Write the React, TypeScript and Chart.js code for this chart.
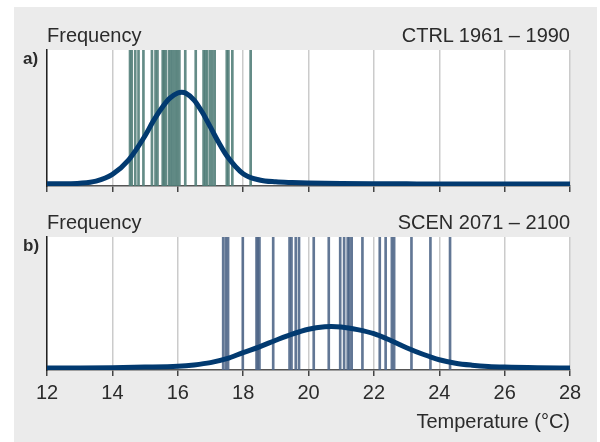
import React, { useEffect, useRef } from "react";
import { Chart, registerables } from "chart.js";

Chart.register(...registerables);

// ---- data ----
const xTickValues = [12, 14, 16, 18, 20, 22, 24, 26, 28];

// yearly mean temperatures (°C), one vertical line each
const ctrlYearTemps = [
  14.54, 14.59, 14.7, 14.8, 14.95, 15.21, 15.32, 15.38, 15.54, 15.58, 15.63,
  15.73, 15.79, 15.85, 15.92, 15.98, 16.05, 16.23, 16.55, 16.79, 16.84, 16.9,
  16.99, 17.06, 17.13, 17.5, 17.55, 17.67, 18.23,
];
const scenYearTemps = [
  17.39, 17.47, 17.54, 17.99, 18.41, 18.45, 18.5, 18.92, 19.42, 19.48, 19.61,
  19.71, 20.16, 20.62, 20.97, 21.09, 21.2, 21.25, 21.32, 21.65, 22.18, 22.36,
  22.55, 22.62, 23.15, 23.73, 24.33,
];

// fitted frequency curves (relative frequency)
const ctrlCurveT = [
  12, 12.5, 13, 13.5, 14, 14.5, 15, 15.25, 15.5, 15.75, 16, 16.12, 16.25, 16.5,
  16.75, 17, 17.25, 17.5, 18, 18.5, 19, 19.5, 20, 21, 22, 23, 24, 26, 28,
];
const ctrlCurveF = [
  0.001, 0.002, 0.006, 0.022, 0.072, 0.18, 0.36, 0.469, 0.564, 0.639, 0.679,
  0.684, 0.677, 0.626, 0.535, 0.424, 0.311, 0.211, 0.077, 0.03, 0.016, 0.011,
  0.008, 0.004, 0.002, 0.001, 0, 0, 0,
];
const scenCurveT = [
  12, 13, 14, 15, 16, 16.5, 17, 17.5, 18, 18.5, 19, 19.5, 20, 20.5, 20.7, 21,
  21.5, 22, 22.5, 23, 23.5, 24, 24.5, 25, 25.5, 26, 27, 28,
];
const scenCurveF = [
  0, 0.001, 0.003, 0.007, 0.014, 0.024, 0.041, 0.071, 0.118, 0.162, 0.212,
  0.259, 0.296, 0.315, 0.317, 0.314, 0.293, 0.262, 0.212, 0.155, 0.105, 0.063,
  0.037, 0.022, 0.012, 0.007, 0.002, 0,
];

const Y_MIN = -0.015;
const Y_MAX = 1;

const FONT = "'Liberation Sans', Arial, sans-serif";
const TEXT = "#2b2b2b";
const CURVE = "#023a70";

const whiteArea = {
  id: "whiteArea",
  beforeDraw(chart: any) {
    const { ctx, chartArea } = chart;
    ctx.save();
    ctx.fillStyle = "#ffffff";
    ctx.fillRect(
      chartArea.left,
      chartArea.top,
      chartArea.right - chartArea.left,
      chartArea.bottom - chartArea.top
    );
    ctx.restore();
  },
};

type PanelProps = {
  top: number;
  height: number;
  temps: number[];
  curveT: number[];
  curveF: number[];
  barColor: string;
  bottom: boolean;
  padding: { top: number; left: number; right: number; bottom: number };
};

function Panel(p: PanelProps) {
  const ref = useRef<HTMLCanvasElement | null>(null);
  useEffect(() => {
    if (!ref.current) return;
    const chart = new Chart(ref.current, {
      type: "line",
      data: {
        datasets: [
          {
            type: "line",
            data: p.curveT.map((t, i) => ({ x: t, y: p.curveF[i] })),
            borderColor: CURVE,
            borderWidth: 5,
            pointRadius: 0,
            cubicInterpolationMode: "monotone",
            fill: false,
            order: 0,
          } as any,
          {
            type: "bar",
            data: p.temps.map((t) => ({ x: t, y: [Y_MIN, Y_MAX] })),
            backgroundColor: p.barColor,
            borderWidth: 0,
            barThickness: 2,
            grouped: false,
            order: 1,
          } as any,
        ],
      },
      options: {
        responsive: false,
        animation: false,
        devicePixelRatio: 1,
        layout: { padding: p.padding },
        plugins: {
          legend: { display: false },
          tooltip: { enabled: false },
        },
        scales: {
          x: {
            type: "linear",
            min: 12,
            max: 28,
            offset: false,
            afterBuildTicks: (s: any) => {
              s.ticks = xTickValues.map((v) => ({ value: v }));
            },
            ticks: {
              display: p.bottom,
              color: TEXT,
              font: { family: FONT, size: 20 },
              padding: 5,
              autoSkip: false,
              maxRotation: 0,
            },
            grid: {
              display: true,
              color: "#cbcbcb",
              lineWidth: 1.5,
              drawTicks: true,
              tickLength: 6,
              tickColor: "#444",
              offset: false,
            },
            border: { display: true, color: "#555", width: 1.5 },
            title: p.bottom
              ? {
                  display: true,
                  text: "Temperature (°C)",
                  align: "end",
                  color: TEXT,
                  font: { family: FONT, size: 20 },
                  padding: { top: 0, bottom: 0 },
                }
              : { display: false },
          } as any,
          y: {
            type: "linear",
            min: Y_MIN,
            max: Y_MAX,
            display: true,
            ticks: { display: false },
            grid: { display: false, drawTicks: false },
            border: { display: true, color: "#222", width: 1.5 },
          } as any,
        },
      },
      plugins: [whiteArea],
    });
    return () => chart.destroy();
  }, []);
  return (
    <canvas
      ref={ref}
      width={600}
      height={p.height}
      style={{ position: "absolute", left: 0, top: p.top, width: 600, height: p.height }}
    />
  );
}

const label: React.CSSProperties = {
  position: "absolute",
  fontFamily: FONT,
  fontSize: 20,
  lineHeight: "24px",
  color: TEXT,
  whiteSpace: "nowrap",
};
const bold: React.CSSProperties = {
  position: "absolute",
  fontFamily: FONT,
  fontSize: 17,
  lineHeight: "20px",
  fontWeight: "bold",
  color: TEXT,
};

export default function App() {
  return (
    <div style={{ position: "fixed", left: 0, top: 0, width: 600, height: 442, overflow: "hidden" }}>
      <div
        style={{ position: "absolute", left: 14, top: 7, width: 583, height: 435, background: "#ebebeb" }}
      />
      <Panel
        top={0}
        height={200}
        temps={ctrlYearTemps}
        curveT={ctrlCurveT}
        curveF={ctrlCurveF}
        barColor="rgba(78,124,118,0.88)"
        bottom={false}
        padding={{ top: 50, left: 47, right: 30, bottom: 8 }}
      />
      <Panel
        top={200}
        height={242}
        temps={scenYearTemps}
        curveT={scenCurveT}
        curveF={scenCurveF}
        barColor="rgba(76,100,134,0.88)"
        bottom={true}
        padding={{ top: 37, left: 47, right: 30, bottom: 8 }}
      />
      <div style={{ ...label, left: 47, top: 23 }}>Frequency</div>
      <div style={{ ...label, right: 30, top: 23 }}>CTRL 1961 – 1990</div>
      <div style={{ ...bold, left: 23, top: 49 }}>a)</div>
      <div style={{ ...label, left: 47, top: 210 }}>Frequency</div>
      <div style={{ ...label, right: 30, top: 210 }}>SCEN 2071 – 2100</div>
      <div style={{ ...bold, left: 23, top: 236 }}>b)</div>
    </div>
  );
}
